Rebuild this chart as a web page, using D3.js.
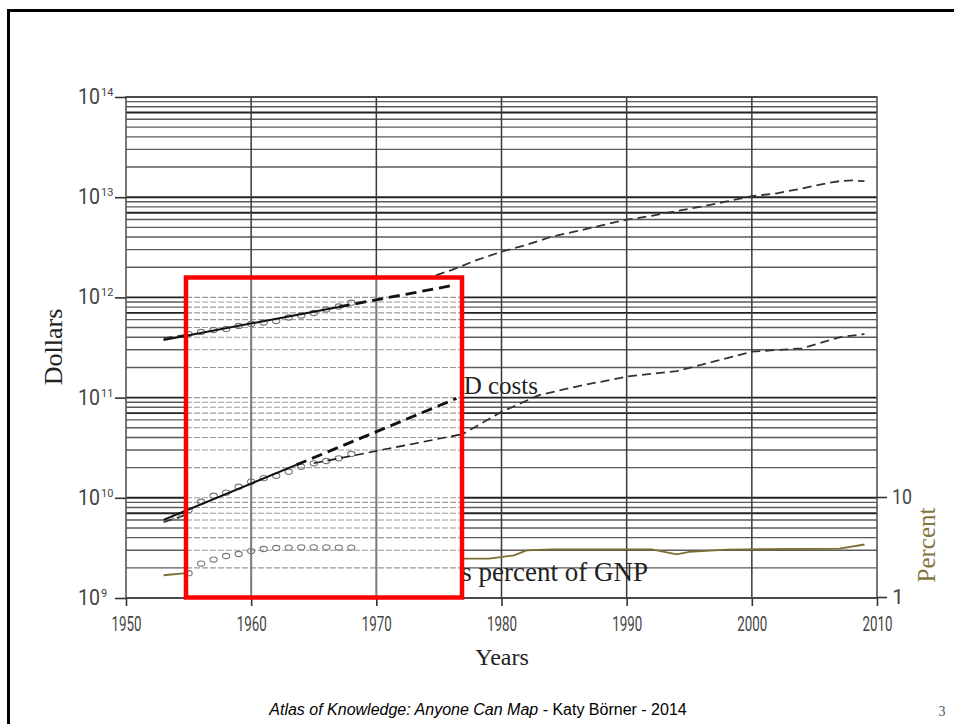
<!DOCTYPE html>
<html><head><meta charset="utf-8">
<script src="https://cdn.jsdelivr.net/npm/d3@7"></script>
<style>
html,body{margin:0;padding:0;background:#fff;}
svg{display:block;}
</style></head>
<body>
<svg id="chart" width="954" height="724"></svg>
<script>
// ---------------- DATA ----------------
// Actual US GNP (billions of dollars)
const gnpYears  = [1953,1955,1958,1960,1963,1965,1968,1970,1972,1974,1976,1978,1980,1982,1984,1986,1988,1990,1992,1994,1996,1998,2000,2002,2004,2006,2007,2008,2009];
const gnpValues = [390,426,482,543,639,744,943,1073,1279,1545,1873,2352,2857,3344,4038,4580,5236,5963,6520,7287,8073,9063,10251,10936,12214,13815,14452,14713,14449];
// Actual R&D costs (billions of dollars)
const rdYears  = [1953,1955,1960,1965,1970,1975,1977,1980,1983,1986,1990,1994,1997,2000,2004,2007,2009];
const rdValues = [5.7,6.9,13.5,20.3,26.3,36,44,72,106,129,162,184,230,287,310,400,431];
// Actual R&D as percent of GNP
const pctYears  = [1953,1955,1960,1965,1970,1975,1977,1979,1981,1982,1984,1992,1994,1995,1998,2007,2009];
const pctValues = [1.65,1.74,2.7,2.9,2.6,2.4,2.42,2.42,2.61,2.93,3.0,3.0,2.67,2.82,2.98,3.05,3.35];

// Original (1960s) chart inside the highlight box
const gnpCircleYears  = [1955,1956,1957,1958,1959,1960,1961,1962,1963,1964,1965,1966,1967,1968];
const gnpCircleValues = [431,452,473,484,519,543,562,581,630,660,699,757,811,885];
const rdCircleYears  = [1954,1955,1956,1957,1958,1959,1960,1961,1962,1963,1964,1965,1966,1967,1968];
const rdCircleValues = [6.47,7.55,9.14,10.5,11.25,12.9,14.5,15.7,16.6,18.2,20.4,22.1,23.3,24.8,27.4];
const pctCircleYears  = [1955,1956,1957,1958,1959,1960,1961,1962,1963,1964,1965,1966,1967,1968];
const pctCircleValues = [1.73,2.16,2.37,2.57,2.69,2.88,3.02,3.09,3.12,3.14,3.14,3.14,3.12,3.12];

// Trend fits (solid) and extrapolations (thick dashed), billions
const gnpFitYears  = [1953,1967];      const gnpFitValues  = [376,804];
const gnpExtYears  = [1967,1976.3];    const gnpExtValues  = [804,1330];
const rdFitYears   = [1953,1963.6];    const rdFitValues   = [6.03,21.3];
const rdExtYears   = [1963.6,1976.4];  const rdExtValues   = [21.3,98];
const rdOrigYears  = [1965,1976.8];    const rdOrigValues  = [22.1,43];

// Axis ticks
const xTickYears   = [1950,1960,1970,1980,1990,2000,2010];
const xGridYears   = [1960,1970,1980,1990,2000];
const yDecades     = [1e9,1e10,1e11,1e12,1e13,1e14];
const pctTicks     = [1,10];

// ---------------- CHART ----------------
const svg = d3.select("#chart");
const x  = d3.scaleLinear().domain([1950,2010]).range([126,877]);
const y  = d3.scaleLog().domain([1e9,1e14]).range([598,97]);
const yp = d3.scaleLog().domain([1,10]).range([597,497]);

const OLIVE_TXT = "#85763f", OLIVE_LINE = "#7d6d34";
const SANS_N = "Roboto,'Liberation Sans',sans-serif";
const SERIF  = "'Liberation Serif','DejaVu Serif',serif";

// slide border
svg.append("rect").attr("x",8.5).attr("y",10.5).attr("width",980).attr("height",760)
  .attr("fill","none").attr("stroke","#000").attr("stroke-width",3);

const zip = (a,b) => a.map((d,i)=>[d,b[i]]);
const mant = v => Math.round(v / Math.pow(10, Math.floor(Math.log10(v)+1e-9)));

// horizontal log grid
const gy = y.ticks();
svg.append("g").selectAll("line").data(gy).join("line")
  .attr("x1",126).attr("x2",877)
  .attr("y1",d=>y(d)).attr("y2",d=>y(d))
  .attr("stroke",d=>{const m=mant(d);return (m===1||m===7)?"#222":"#5a5a5a";})
  .attr("stroke-width",d=>{const m=mant(d);return (m===1||m===7)?1.9:1.4;});

// vertical grid
svg.append("g").selectAll("line").data(xGridYears).join("line")
  .attr("x1",d=>x(d)).attr("x2",d=>x(d)).attr("y1",97).attr("y2",598)
  .attr("stroke","#3a3a3a").attr("stroke-width",1.5);

// frame
svg.append("rect").attr("x",126).attr("y",97).attr("width",751).attr("height",501)
  .attr("fill","none").attr("stroke","#555").attr("stroke-width",1.6);

// left axis
const gl = svg.append("g").attr("transform","translate(126,0)")
  .call(d3.axisLeft(y).tickValues(yDecades).tickSize(11).tickFormat(""));
gl.select(".domain").remove();
gl.selectAll(".tick line").attr("stroke","#333").attr("stroke-width",1.6);
const ltg = svg.append("g").attr("font-family",SANS_N).attr("fill","#444");
ltg.selectAll("text.base").data(yDecades).join("text").attr("class","base")
  .attr("x",100).attr("y",d=>y(d)+7).attr("text-anchor","end")
  .attr("font-size",22).attr("textLength",22).attr("lengthAdjust","spacingAndGlyphs").text("10");
ltg.selectAll("text.exp").data(yDecades).join("text").attr("class","exp")
  .attr("x",101).attr("y",d=>y(d)-1).attr("text-anchor","start")
  .attr("font-size",11).text(d=>Math.round(Math.log10(d)));

// bottom axis
const gb = svg.append("g").attr("transform","translate(0,598)")
  .call(d3.axisBottom(x).tickValues(xTickYears).tickSize(8).tickPadding(10).tickFormat(d3.format("d")));
gb.select(".domain").remove();
gb.selectAll(".tick line").attr("stroke","#333").attr("stroke-width",1.6);
gb.selectAll(".tick text").attr("font-family",SANS_N).attr("font-size",21).attr("fill","#444")
  .attr("textLength",30).attr("lengthAdjust","spacingAndGlyphs");

// right axis (percent)
const gr = svg.append("g").attr("transform","translate(877,0)")
  .call(d3.axisRight(yp).tickValues(pctTicks).tickSize(10).tickPadding(5).tickFormat(d3.format("d")));
gr.select(".domain").remove();
gr.selectAll(".tick line").attr("stroke","#333").attr("stroke-width",1.6);
gr.selectAll(".tick text").attr("font-family",SANS_N).attr("font-size",21).attr("fill","#444")
  .filter(d=>d===10).attr("textLength",20).attr("lengthAdjust","spacingAndGlyphs");

// axis titles
svg.append("text").attr("transform","translate(62,347) rotate(-90)").attr("text-anchor","middle")
  .attr("font-family",SERIF).attr("font-size",26).attr("fill","#222").text("Dollars");
svg.append("text").attr("transform","translate(935,545) rotate(-90)").attr("text-anchor","middle")
  .attr("font-family",SERIF).attr("font-size",25).attr("fill",OLIVE_TXT).text("Percent");
svg.append("text").attr("x",502).attr("y",665).attr("text-anchor","middle")
  .attr("font-family",SERIF).attr("font-size",24).attr("fill","#222").text("Years");

// actual data lines (thin dashed)
const line  = d3.line().x(d=>x(d[0])).y(d=>y(d[1]*1e9));
const lineP = d3.line().x(d=>x(d[0])).y(d=>yp(d[1]));
svg.append("path").attr("d",line(zip(gnpYears,gnpValues))).attr("fill","none")
  .attr("stroke","#333").attr("stroke-width",1.8).attr("stroke-dasharray","9,5");
svg.append("path").attr("d",line(zip(rdYears,rdValues))).attr("fill","none")
  .attr("stroke","#333").attr("stroke-width",1.8).attr("stroke-dasharray","9,5");
svg.append("path").attr("d",lineP(zip(pctYears,pctValues))).attr("fill","none")
  .attr("stroke",OLIVE_LINE).attr("stroke-width",1.8);

// series labels (partly hidden by the box)
svg.append("text").attr("x",538).attr("y",394).attr("text-anchor","end")
  .attr("font-family",SERIF).attr("font-size",25).attr("fill","#222").text("R&D costs");
svg.append("text").attr("x",648).attr("y",581).attr("text-anchor","end")
  .attr("font-family",SERIF).attr("font-size",27).attr("fill","#222").text("R&D as percent of GNP");

// highlight box: original scanned chart
const bx=186, by=277.5, bw=276, bh=320;
svg.append("rect").attr("x",bx).attr("y",by).attr("width",bw).attr("height",bh).attr("fill","#fff");
svg.append("clipPath").attr("id","boxclip").append("rect").attr("x",bx).attr("y",by).attr("width",bw).attr("height",bh);
const inner = svg.append("g").attr("clip-path","url(#boxclip)");
inner.selectAll("line.hg").data(gy).join("line").attr("class","hg")
  .attr("x1",bx).attr("x2",bx+bw).attr("y1",d=>y(d)).attr("y2",d=>y(d))
  .attr("stroke","#9a9a9a").attr("stroke-width",1.1).attr("stroke-dasharray","6,2");
inner.selectAll("line.vg").data([1960,1970]).join("line").attr("class","vg")
  .attr("x1",d=>x(d)).attr("x2",d=>x(d)).attr("y1",by).attr("y2",by+bh)
  .attr("stroke","#7a7a7a").attr("stroke-width",2);

// circles
const circ = (ys,vs,sc,mult) => svg.append("g").selectAll("ellipse").data(zip(ys,vs)).join("ellipse")
  .attr("cx",d=>x(d[0])).attr("cy",d=>sc(d[1]*mult)).attr("rx",3.6).attr("ry",2.6)
  .attr("fill","none").attr("stroke","#777").attr("stroke-width",1.1);
circ(gnpCircleYears,gnpCircleValues,y,1e9);
circ(rdCircleYears,rdCircleValues,y,1e9);
circ(pctCircleYears,pctCircleValues,yp,1);

// fits and extrapolations
svg.append("path").attr("d",line(zip(gnpFitYears,gnpFitValues))).attr("fill","none")
  .attr("stroke","#111").attr("stroke-width",2);
svg.append("path").attr("d",line(zip(rdFitYears,rdFitValues))).attr("fill","none")
  .attr("stroke","#111").attr("stroke-width",2);
svg.append("path").attr("d",line(zip(gnpExtYears,gnpExtValues))).attr("fill","none")
  .attr("stroke","#111").attr("stroke-width",2.8).attr("stroke-dasharray","11,6");
svg.append("path").attr("d",line(zip(rdExtYears,rdExtValues))).attr("fill","none")
  .attr("stroke","#111").attr("stroke-width",2.8).attr("stroke-dasharray","11,6");
svg.append("path").attr("d",line(zip(rdOrigYears,rdOrigValues))).attr("fill","none")
  .attr("stroke","#222").attr("stroke-width",1.6).attr("stroke-dasharray","9,5");

// red outline
svg.append("rect").attr("x",bx).attr("y",by).attr("width",bw).attr("height",bh)
  .attr("fill","none").attr("stroke","#ff0000").attr("stroke-width",4.5);

// footer
const ft = svg.append("text").attr("x",478).attr("y",715).attr("text-anchor","middle")
  .attr("font-family","'Liberation Sans',Arial,sans-serif").attr("font-size",16).attr("fill","#000");
ft.append("tspan").attr("font-style","italic").text("Atlas of Knowledge: Anyone Can Map");
ft.append("tspan").text(" - Katy Börner - 2014");
svg.append("text").attr("x",942).attr("y",716).attr("text-anchor","middle")
  .attr("font-family",SERIF).attr("font-size",14).attr("fill","#555").text("3");
</script>
</body></html>
